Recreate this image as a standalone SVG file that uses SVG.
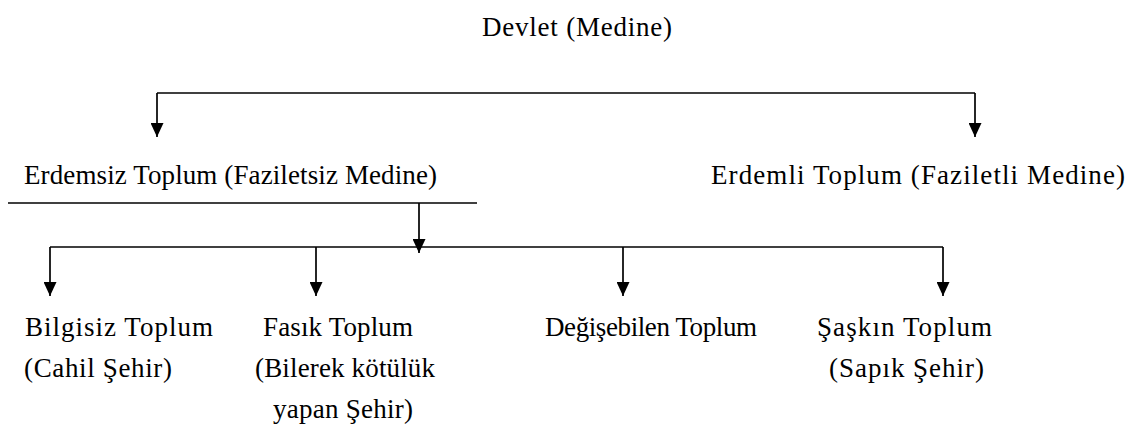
<svg xmlns="http://www.w3.org/2000/svg" width="1135" height="445" viewBox="0 0 1135 445">
<style>
.t{font-family:"Liberation Serif","Times New Roman",serif;font-size:27px;fill:#000}
.c{stroke:#000;stroke-width:1.7;fill:none}
</style>
<defs>
<marker id="ah" viewBox="0 0 14 13" refX="14" refY="6.5" markerWidth="14" markerHeight="13" markerUnits="userSpaceOnUse" orient="auto">
<path d="M0,0 L14,6.5 L0,13 Z" fill="#000"/>
</marker>
</defs>
<rect width="1135" height="445" fill="#fff"/>
<g id="connectors">
<path class="c" d="M157,93 H975"/>
<path class="c" d="M157,93 V137" marker-end="url(#ah)"/>
<path class="c" d="M975,93 V137" marker-end="url(#ah)"/>
<path class="c" d="M8,203 H477"/>
<path class="c" d="M419,203 V253" marker-end="url(#ah)"/>
<path class="c" d="M50,247 H943"/>
<path class="c" d="M50,247 V296" marker-end="url(#ah)"/>
<path class="c" d="M316,247 V296" marker-end="url(#ah)"/>
<path class="c" d="M623,247 V296" marker-end="url(#ah)"/>
<path class="c" d="M943,247 V296" marker-end="url(#ah)"/>
</g>
<g id="devlet"><text class="t" x="482" y="36" textLength="190">Devlet (Medine)</text></g>
<g id="erdemsiz"><text class="t" x="24" y="184" textLength="413">Erdemsiz Toplum (Faziletsiz Medine)</text></g>
<g id="erdemli"><text class="t" x="711" y="184" textLength="414">Erdemli Toplum (Faziletli Medine)</text></g>
<g id="bilgisiz">
<text class="t" x="25" y="336" textLength="188">Bilgisiz Toplum</text>
<text class="t" x="24" y="377" textLength="148">(Cahil Şehir)</text>
</g>
<g id="fasik">
<text class="t" x="263" y="336" textLength="150">Fasık Toplum</text>
<text class="t" x="255" y="377" textLength="180">(Bilerek kötülük</text>
<text class="t" x="273" y="418" textLength="140">yapan Şehir)</text>
</g>
<g id="degisebilen"><text class="t" x="545" y="336" textLength="212">Değişebilen Toplum</text></g>
<g id="saskin">
<text class="t" x="817" y="336" textLength="175">Şaşkın Toplum</text>
<text class="t" x="829" y="377" textLength="155">(Sapık Şehir)</text>
</g>
</svg>
